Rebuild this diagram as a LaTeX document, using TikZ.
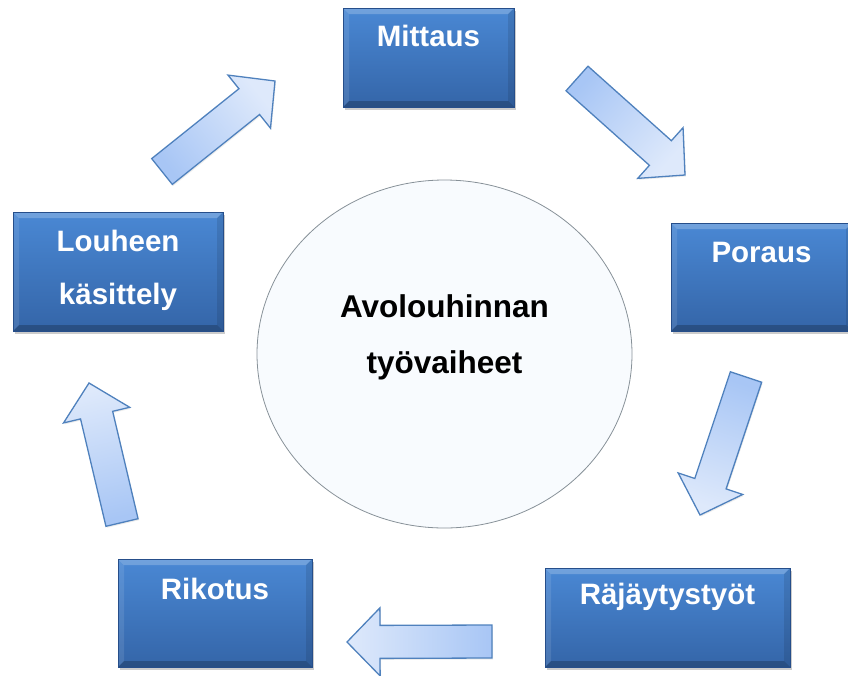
\documentclass[tikz,border=0pt]{standalone}
\usepackage{fontspec}
\setmainfont{Liberation Sans}
\usetikzlibrary{calc,shadows,shapes.geometric}

\definecolor{boxtop}{RGB}{74,136,212}
\definecolor{boxbottom}{RGB}{52,101,168}
\definecolor{boxedge}{RGB}{38,78,138}
\definecolor{arrowlight}{RGB}{222,233,251}
\definecolor{arrowdark}{RGB}{168,198,245}
\definecolor{arrowedge}{RGB}{79,129,189}
\definecolor{hubinner}{RGB}{248,251,254}
\definecolor{hubrim}{RGB}{205,226,236}
\definecolor{hubedge}{RGB}{135,145,152}

\pgfdeclareradialshading{hubglow}{\pgfpoint{0bp}{0bp}}{color(0bp)=(hubinner); color(43bp)=(hubinner); color(49bp)=(hubrim); color(50bp)=(hubrim)}

\begin{document}
\begin{tikzpicture}[x=1pt,y=-1pt,
    stage box/.style={rectangle, draw=boxedge, line width=0.6pt, top color=boxtop, bottom color=boxbottom,
        drop shadow={opacity=0.4, shadow xshift=1.5pt, shadow yshift=-2.5pt}, inner sep=0pt,
        path picture={
            \fill[white, opacity=0.22] (path picture bounding box.north west) -- (path picture bounding box.north east)
                -- ([xshift=-6pt,yshift=-6pt]path picture bounding box.north east) -- ([xshift=6pt,yshift=-6pt]path picture bounding box.north west) -- cycle;
            \fill[white, opacity=0.1] (path picture bounding box.north west) -- ([xshift=6pt,yshift=-6pt]path picture bounding box.north west)
                -- ([xshift=6pt,yshift=6pt]path picture bounding box.south west) -- (path picture bounding box.south west) -- cycle;
            \fill[black, opacity=0.1] (path picture bounding box.north east) -- ([xshift=-6pt,yshift=-6pt]path picture bounding box.north east)
                -- ([xshift=-6pt,yshift=6pt]path picture bounding box.south east) -- (path picture bounding box.south east) -- cycle;
            \fill[black, opacity=0.22] (path picture bounding box.south west) -- (path picture bounding box.south east)
                -- ([xshift=-6pt,yshift=6pt]path picture bounding box.south east) -- ([xshift=6pt,yshift=6pt]path picture bounding box.south west) -- cycle;
        }},
    stage text/.style={text=white, font=\fontsize{29.5}{53}\selectfont\bfseries, inner sep=0pt, align=center},
    hub/.style={ellipse, draw=hubedge, line width=0.8pt, shade, shading=hubglow,
        minimum width=375pt, minimum height=348pt, inner sep=0pt},
    hub text/.style={text=black, font=\fontsize{31.5}{56}\selectfont\bfseries, inner sep=0pt, align=center},
    flow arrow/.style={draw=arrowedge, line width=1.3pt, line join=miter, top color=arrowlight, bottom color=arrowdark,
        drop shadow={opacity=0.15, shadow xshift=1pt, shadow yshift=-1.5pt}}]
    \useasboundingbox (0,0) rectangle (848,675);
    \clip (0,0) rectangle (848,675);

    % centre
    \node[hub] (hub) at (444.5,354) {};
    \node[hub text, anchor=north] (hub label) at ([yshift=60pt]hub.center) {Avolouhinnan\\työvaiheet};

    % work stages
    \node[stage box, minimum width=171pt, minimum height=99pt]  (mittaus)  at (428.5,57.5) {};
    \node[stage box, minimum width=181pt, minimum height=108pt] (poraus)   at (761.5,277)  {};
    \node[stage box, minimum width=245pt, minimum height=99pt]  (rajaytys) at (667.5,617.5) {};
    \node[stage box, minimum width=194pt, minimum height=108pt] (rikotus)  at (215,613)    {};
    \node[stage box, minimum width=210pt, minimum height=119pt] (louheen)  at (118,271.5)  {};

    \node[stage text, anchor=base]  (mittaus label)  at ([yshift=-39pt]mittaus.north)  {Mittaus};
    \node[stage text, anchor=base]  (poraus label)   at ([yshift=-40pt]poraus.north)   {Poraus};
    \node[stage text, anchor=base]  (rajaytys label) at ([yshift=-37pt]rajaytys.north) {Räjäytystyöt};
    \node[stage text, anchor=base]  (rikotus label)  at ([yshift=-41pt]rikotus.north)  {Rikotus};
    \node[stage text, anchor=north] (louheen label)  at ([yshift=-18pt]louheen.north)  {Louheen\\käsittely};

    % block arrows
    \coordinate (louheen out)  at (162,171.5);
    \coordinate (mittaus in)   at (275,81);
    \coordinate (mittaus out)  at (577,78.5);
    \coordinate (poraus in)    at (685,175);
    \coordinate (poraus out)   at (746,377);
    \coordinate (rajaytys in)  at (700,515);
    \coordinate (rajaytys out) at (492,641.5);
    \coordinate (rikotus in)   at (347,642);
    \coordinate (rikotus out)  at (122,522.5);
    \coordinate (louheen in)   at (89,383);

    \foreach \from/\to/\ang in {louheen out/mittaus in/-51.5, mittaus out/poraus in/-131.8,
        poraus out/rajaytys in/161.6, rajaytys out/rikotus in/90, rikotus out/louheen in/13.3}{
        \coordinate (head) at ($(\to)!33pt!(\from)$);
        \draw[flow arrow, shading angle=\ang] ($(\from)!16.5pt!90:(\to)$) -- ($(head)!16.5pt!90:(\to)$)
            -- ($(head)!34pt!90:(\to)$) -- (\to) -- ($(head)!34pt!-90:(\to)$)
            -- ($(head)!16.5pt!-90:(\to)$) -- ($(\from)!16.5pt!-90:(\to)$) -- cycle;
    }
\end{tikzpicture}
\end{document}
